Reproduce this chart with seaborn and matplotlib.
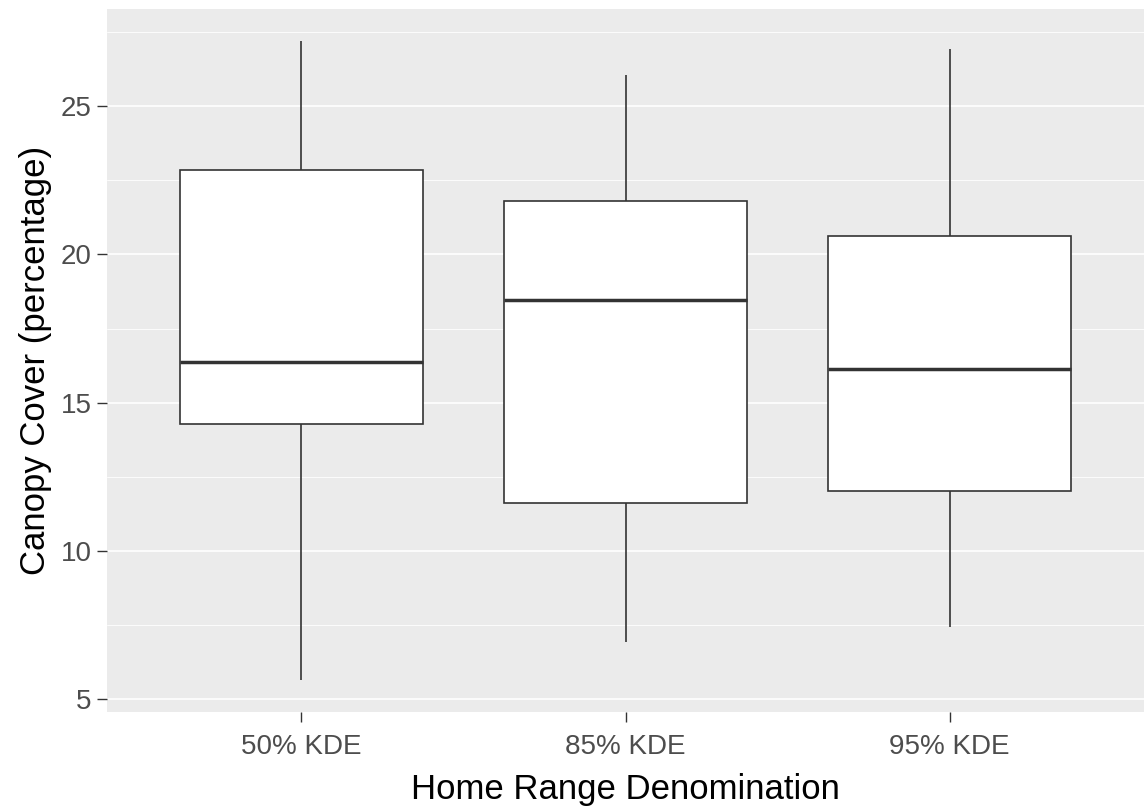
import numpy as np
import pandas as pd
import matplotlib
matplotlib.use("Agg")
import matplotlib.pyplot as plt
import seaborn as sns
from matplotlib.ticker import MultipleLocator

# Five-number summaries of canopy cover per home range level
categories = ["50% KDE", "85% KDE", "95% KDE"]
low = [5.63, 6.90, 7.41]
q1 = [14.28, 11.61, 12.03]
median = [16.36, 18.45, 16.14]
q3 = [22.84, 21.79, 20.64]
high = [27.21, 26.05, 26.95]

rows = []
for i, cat in enumerate(categories):
    for v in (low[i], q1[i], median[i], q3[i], high[i]):
        rows.append({"range": cat, "cover": v})
df = pd.DataFrame(rows)

sns.set_theme(style="white")
plt.rcParams["font.family"] = ["Liberation Sans", "DejaVu Sans"]

fig = plt.figure(figsize=(11.44, 8.07), dpi=100)
ax = fig.add_axes([107 / 1144, 95 / 807, 1 - 107 / 1144, (712 - 9) / 807])
ax.set_facecolor("#EBEBEB")

# grid
ax.yaxis.set_major_locator(MultipleLocator(5))
ax.yaxis.set_minor_locator(MultipleLocator(2.5))
ax.grid(which="major", axis="both", color="white", linewidth=1.2)
ax.grid(which="minor", axis="y", color="white", linewidth=0.6)
ax.set_axisbelow(True)

sns.boxplot(
    data=df, x="range", y="cover", order=categories, ax=ax,
    whis=np.inf, width=0.75, color="white", linecolor="#333333",
    linewidth=1.2, showcaps=False, showfliers=False, saturation=1,
    medianprops={"linewidth": 2.5, "color": "#333333"},
)

lo, hi = min(low), max(high)
pad = 0.05 * (hi - lo)
ax.set_ylim(lo - pad, hi + pad)
ax.set_xlim(-0.6, 2.6)

for s in ax.spines.values():
    s.set_visible(False)

ax.tick_params(axis="both", which="major", length=7, width=1.0, color="#333333",
               labelsize=20, labelcolor="#4D4D4D", pad=4)
ax.tick_params(axis="x", which="major", pad=9)
ax.tick_params(axis="y", which="minor", length=0)
ax.tick_params(axis="y", left=True)
ax.tick_params(axis="x", bottom=True)
ax.set_yticks([5, 10, 15, 20, 25])
ax.set_yticklabels(["5", "10", "15", "20", "25"])

ax.set_xlabel("Home Range Denomination", fontsize=25, color="black", labelpad=9)
ax.set_ylabel("Canopy Cover (percentage)", fontsize=25, color="black", labelpad=6)

fig.savefig("out.png", dpi=100, facecolor="white")
